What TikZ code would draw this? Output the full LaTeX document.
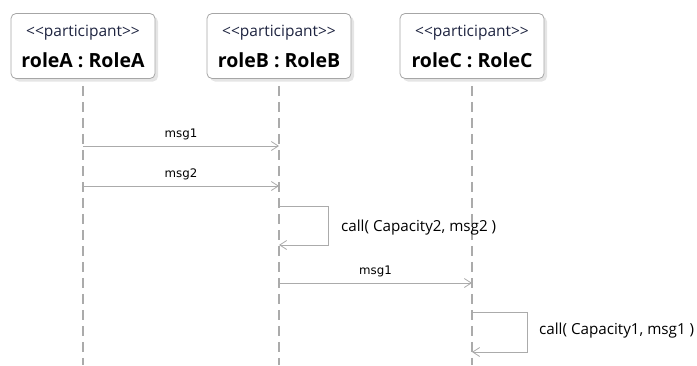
\documentclass[tikz,border=0pt]{standalone}
\usepackage{fontspec}
\setmainfont{Open Sans}
\newfontfamily\msgfont{DejaVu Sans}
\usetikzlibrary{arrows.meta, shadows}
\definecolor{linegray}{HTML}{ABABAB}
\definecolor{boxgray}{HTML}{A6A6A6}
\definecolor{stereoblue}{HTML}{1E2440}
\newcommand{\stereotext}[1]{{\color{stereoblue}\fontsize{15.5}{17}\selectfont <\kern0pt<#1>\kern0pt>}}
\tikzset{
  participant/.style={rectangle, draw=boxgray, line width=0.8pt, rounded corners=5pt,
    fill=white, minimum width=144pt, minimum height=65pt, align=center,
    drop shadow={shadow xshift=3pt, shadow yshift=-3pt, fill=black!20},
    font=\fontsize{19.5}{31}\selectfont},
  lifeline/.style={draw=linegray, line width=1.6pt, dash pattern=on 10pt off 6pt},
  msg/.style={draw=linegray, line width=0.8pt, -{Straight Barb[length=7pt, width=9pt]}},
  mlabel/.style={font=\msgfont\fontsize{11.8}{13}\selectfont, inner sep=2pt},
  clabel/.style={font=\fontsize{15.2}{17}\selectfont, anchor=west, inner sep=0pt}
}

\begin{document}
\begin{tikzpicture}[x=1pt, y=-1pt]
\useasboundingbox (0,0) rectangle (697,365);

% Participants
\node[participant] (roleA) at ( 83,46) {\stereotext{participant}\\\textbf{roleA : RoleA}};
\node[participant] (roleB) at (279,46) {\stereotext{participant}\\\textbf{roleB : RoleB}};
\node[participant] (roleC) at (472,46) {\stereotext{participant}\\\textbf{roleC : RoleC}};

% Lifelines
\coordinate (endA) at ( 83,365);
\coordinate (endB) at (279,365);
\coordinate (endC) at (472,365);
\draw[lifeline] ([yshift=-7pt]roleA.south) -- (endA);
\draw[lifeline] ([yshift=-7pt]roleB.south) -- (endB);
\draw[lifeline] ([yshift=-7pt]roleC.south) -- (endC);

% Message points
\coordinate (a1) at ( 83,146);
\coordinate (b1) at (279,146);
\coordinate (a2) at ( 83,186);
\coordinate (b2) at (279,186);
\coordinate (b3) at (279,206);
\coordinate (b4) at (279,245);
\coordinate (b5) at (279,283);
\coordinate (c5) at (472,283);
\coordinate (c6) at (472,312);
\coordinate (c7) at (472,352);

% ── roleA -> roleB ──────────────────────────────
\draw[msg] (a1) -- node[mlabel, above=4pt] {msg1} (b1);
\draw[msg] (a2) -- node[mlabel, above=4pt] {msg2} (b2);

% ── roleB self call ──────────────────────────────
\draw[msg] (b3) -- ++(49,0) |- (b4);
\node[clabel] (callB) at (341,228) {call( Capacity2, msg2 )};

% ── roleB -> roleC ──────────────────────────────
\draw[msg] (b5) -- node[mlabel, above=4pt] {msg1} (c5);

% ── roleC self call ──────────────────────────────
\draw[msg] (c6) -- ++(55,0) |- (c7);
\node[clabel] (callC) at (539,331) {call( Capacity1, msg1 )};

\end{tikzpicture}
\end{document}
